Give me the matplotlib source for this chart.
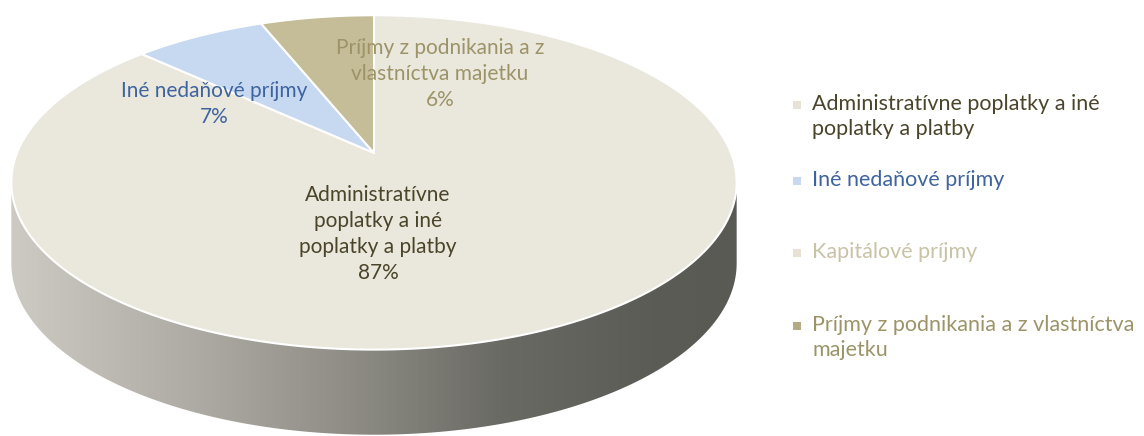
import numpy as np
import matplotlib.pyplot as plt
from matplotlib.patches import Polygon, Rectangle

plt.rcParams['font.family'] = ['Lato', 'DejaVu Sans']

# data
categories = ['Administratívne poplatky a iné poplatky a platby',
              'Iné nedaňové príjmy',
              'Kapitálové príjmy',
              'Príjmy z podnikania a z vlastníctva majetku']
values = [87, 7, 0, 6]
top_colors = ['#EAE7DC', '#C6D9F0', '#E6E2D4', '#C4BD97']
text_colors = ['#4A452A', '#3E64A0', '#C8C2A6', '#9C9468']
legend_box = ['#E6E3D6', '#C6D9F0', '#E6E2D4', '#B3AB85']

# perspective geometry (pixels)
cx, cy = 374, 153
a, b, c = 357.0, 162.0, 0.176
depth, c2 = 80.0, 0.06


def proj(theta, r=1.0):
    u = r * np.sin(theta)
    v = r * np.cos(theta)
    s = 1.0 / (1.0 + c * v)
    return cx + a * u * s, cy - b * v * s, v


def hull(pts):
    pts = sorted(map(tuple, pts))
    def cross(o, p, q):
        return (p[0]-o[0])*(q[1]-o[1]) - (p[1]-o[1])*(q[0]-o[0])
    lower, upper = [], []
    for p in pts:
        while len(lower) >= 2 and cross(lower[-2], lower[-1], p) <= 0:
            lower.pop()
        lower.append(p)
    for p in reversed(pts):
        while len(upper) >= 2 and cross(upper[-2], upper[-1], p) <= 0:
            upper.pop()
        upper.append(p)
    return np.array(lower[:-1] + upper[:-1])


fig = plt.figure(figsize=(11.44, 4.36), dpi=100)
ax = fig.add_axes([0, 0, 1, 1])

# side of the cylinder
t = np.linspace(0, 2*np.pi, 400)
xt, yt, vt = proj(t)
xb, yb = xt, yt + depth / (1.0 + c2 * vt)
side = hull(np.vstack([np.column_stack([xt, yt]), np.column_stack([xb, yb])]))
side_poly = Polygon(side, closed=True, facecolor='none', edgecolor='none')
ax.add_patch(side_poly)

gx = np.arange(1144)
stops = [8, 200, 350, 500, 650, 740]
reds = [205, 172, 142, 106, 92, 90]
greens = [203, 170, 140, 106, 92, 90]
blues = [195, 162, 133, 100, 87, 85]
grad = np.stack([np.interp(gx, stops, reds), np.interp(gx, stops, greens),
                 np.interp(gx, stops, blues)], axis=-1) / 255.0
grad = np.repeat(grad[None, :, :], 10, axis=0)
im = ax.imshow(grad, extent=[0, 1144, 436, 0], aspect='auto', zorder=1)
im.set_clip_path(side_poly)

# top slices, clockwise from 12 o'clock
start = 0.0
total = float(sum(values))
for val, col in zip(values, top_colors):
    if val <= 0:
        continue
    end = start + val / total * 2 * np.pi
    th = np.linspace(start, end, max(int(val * 4), 10))
    px, py, _ = proj(th)
    verts = np.vstack([[cx, cy], np.column_stack([px, py])])
    ax.add_patch(Polygon(verts, closed=True, facecolor=col, edgecolor='white',
                         linewidth=1.5, zorder=3))
    start = end

# data labels
ax.text(378, 234, 'Administratívne\npoplatky a iné\npoplatky a platby\n87%',
        ha='center', va='center', fontsize=15, color=text_colors[0],
        linespacing=1.38, zorder=5)
ax.text(214, 104, 'Iné nedaňové príjmy\n7%', ha='center', va='center',
        fontsize=15, color=text_colors[1], linespacing=1.42, zorder=5)
ax.text(440, 74, 'Príjmy z podnikania a z\nvlastníctva majetku\n6%',
        ha='center', va='center', fontsize=15, color=text_colors[3],
        linespacing=1.38, zorder=5)

# legend
leg_text = ['Administratívne poplatky a iné\npoplatky a platby',
            'Iné nedaňové príjmy',
            'Kapitálové príjmy',
            'Príjmy z podnikania a z vlastníctva\nmajetku']
leg_y = [105, 181, 253, 326]
for txt, y, tc, bc in zip(leg_text, leg_y, text_colors, legend_box):
    ax.add_patch(Rectangle((793, y - 4), 8, 8, facecolor=bc, edgecolor='none', zorder=5))
    ax.text(812, y - 11, txt, ha='left', va='top', fontsize=15.5, color=tc,
            linespacing=1.3, zorder=5)

ax.set_xlim(0, 1144)
ax.set_ylim(436, 0)
ax.axis('off')
fig.savefig('out.png', dpi=100, facecolor='white')
